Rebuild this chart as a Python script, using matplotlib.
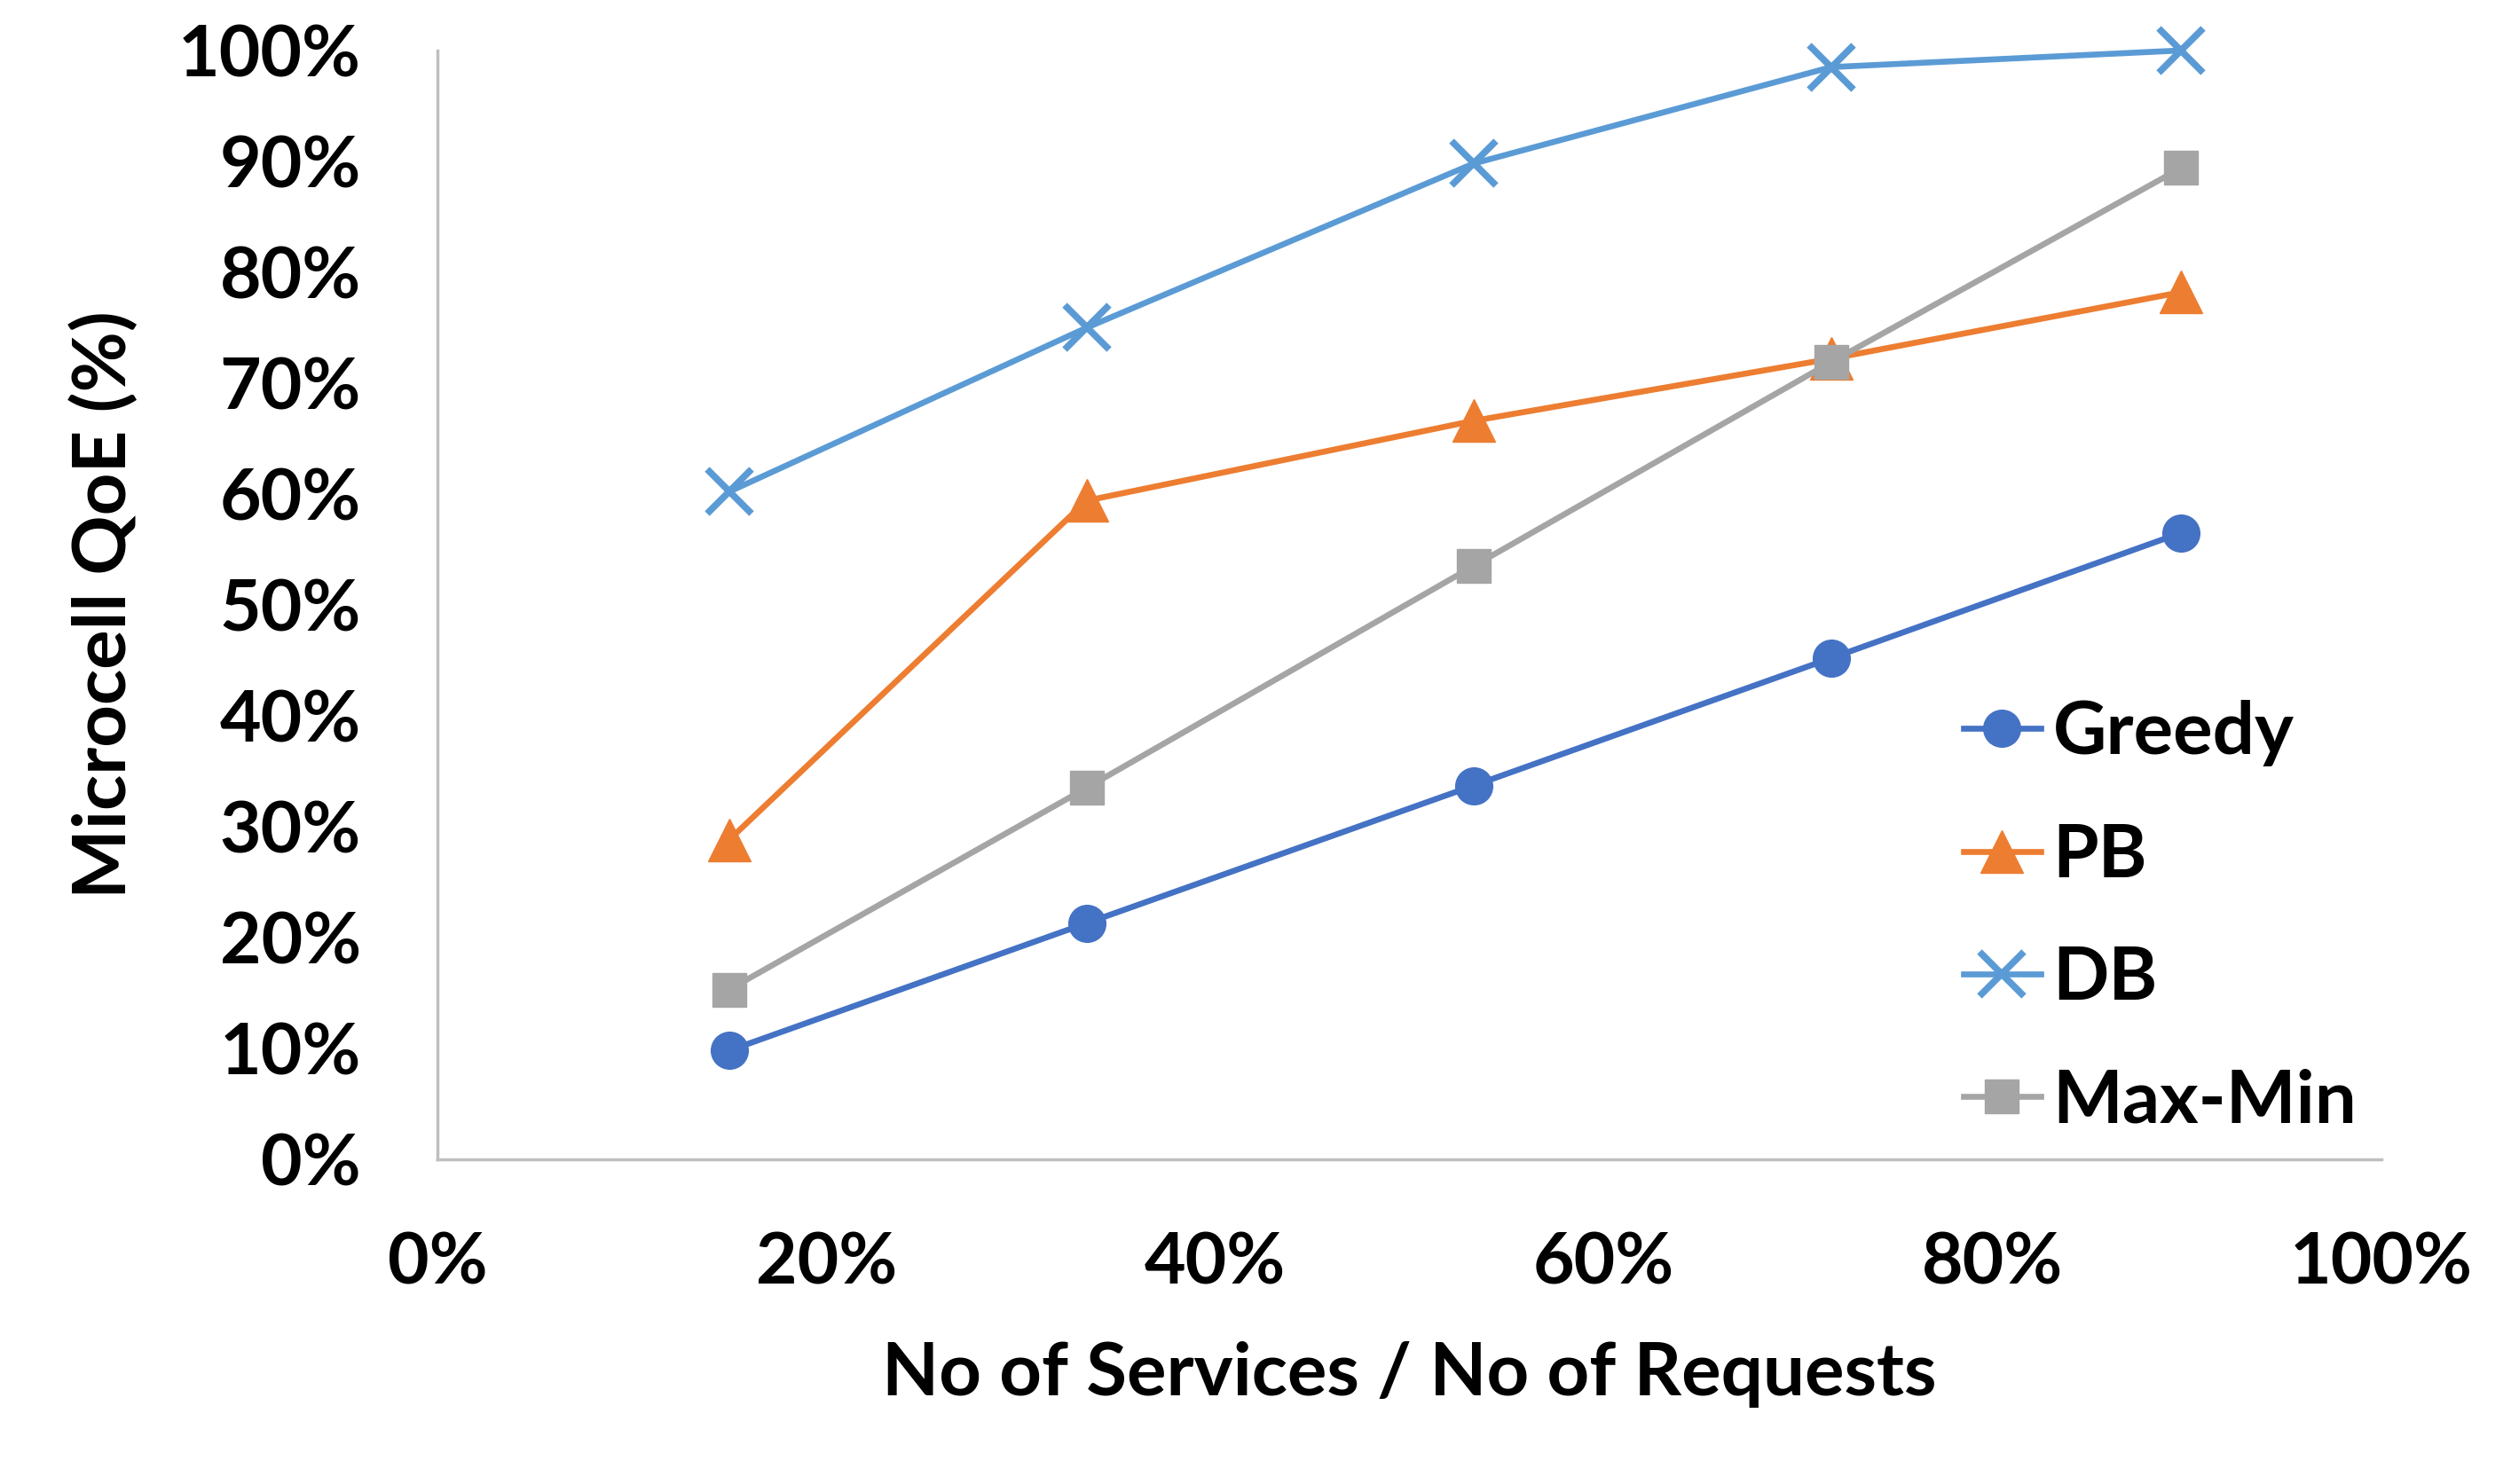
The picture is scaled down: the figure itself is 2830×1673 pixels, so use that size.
import numpy as np
import matplotlib
matplotlib.use('Agg')
import matplotlib.pyplot as plt
from matplotlib.ticker import PercentFormatter

plt.rcParams['font.family'] = ['Lato', 'DejaVu Sans']
plt.rcParams['font.weight'] = 'bold'

# services / requests ratio
ratio = [0.150, 0.334, 0.533, 0.717, 0.897]

greedy = [0.098, 0.213, 0.337, 0.452, 0.565]
pb = [0.288, 0.594, 0.666, 0.722, 0.782]
db = [0.602, 0.750, 0.898, 0.985, 1.000]
maxmin = [0.153, 0.335, 0.535, 0.719, 0.894]

fig = plt.figure(figsize=(28.3, 16.73), dpi=100)
ax = fig.add_axes([0.1742, 0.2188, 0.7742, 0.7472])

ax.plot(ratio, greedy, color='#4472C4', lw=4.8, marker='o', ms=30, label='Greedy', clip_on=False)
ax.plot(ratio, pb, color='#ED7D31', lw=4.8, marker='^', ms=34, label='PB', clip_on=False)
ax.plot(ratio, db, color='#5B9BD5', lw=4.8, marker='x', ms=36, mew=5.5, label='DB', clip_on=False)
ax.plot(ratio, maxmin, color='#A5A5A5', lw=4.8, marker='s', ms=28, label='Max-Min', clip_on=False)

ax.set_xlim(0, 1)
ax.set_ylim(0, 1)
ax.set_xticks(np.arange(0, 1.01, 0.2))
ax.set_yticks(np.arange(0, 1.01, 0.1))
ax.xaxis.set_major_formatter(PercentFormatter(1.0, decimals=0))
ax.yaxis.set_major_formatter(PercentFormatter(1.0, decimals=0))
ax.tick_params(axis='both', length=0, labelsize=58)
ax.tick_params(axis='x', pad=58)
ax.tick_params(axis='y', pad=62)
for s in ['top', 'right']:
    ax.spines[s].set_visible(False)
for s in ['left', 'bottom']:
    ax.spines[s].set_color('#BFBFBF')
    ax.spines[s].set_linewidth(2.5)

ax.set_xlabel('No of Services / No of Requests', fontsize=60, fontweight='bold', labelpad=36)
ax.set_ylabel('Microcell QoE (%)', fontsize=60, fontweight='bold', labelpad=32)

ax.legend(loc='center left', bbox_to_anchor=(0.785, 0.218), frameon=False, fontsize=60,
          handlelength=1.04, handletextpad=0.17, labelspacing=0.76, borderpad=0, borderaxespad=0)

fig.savefig('out.png', dpi=100)
